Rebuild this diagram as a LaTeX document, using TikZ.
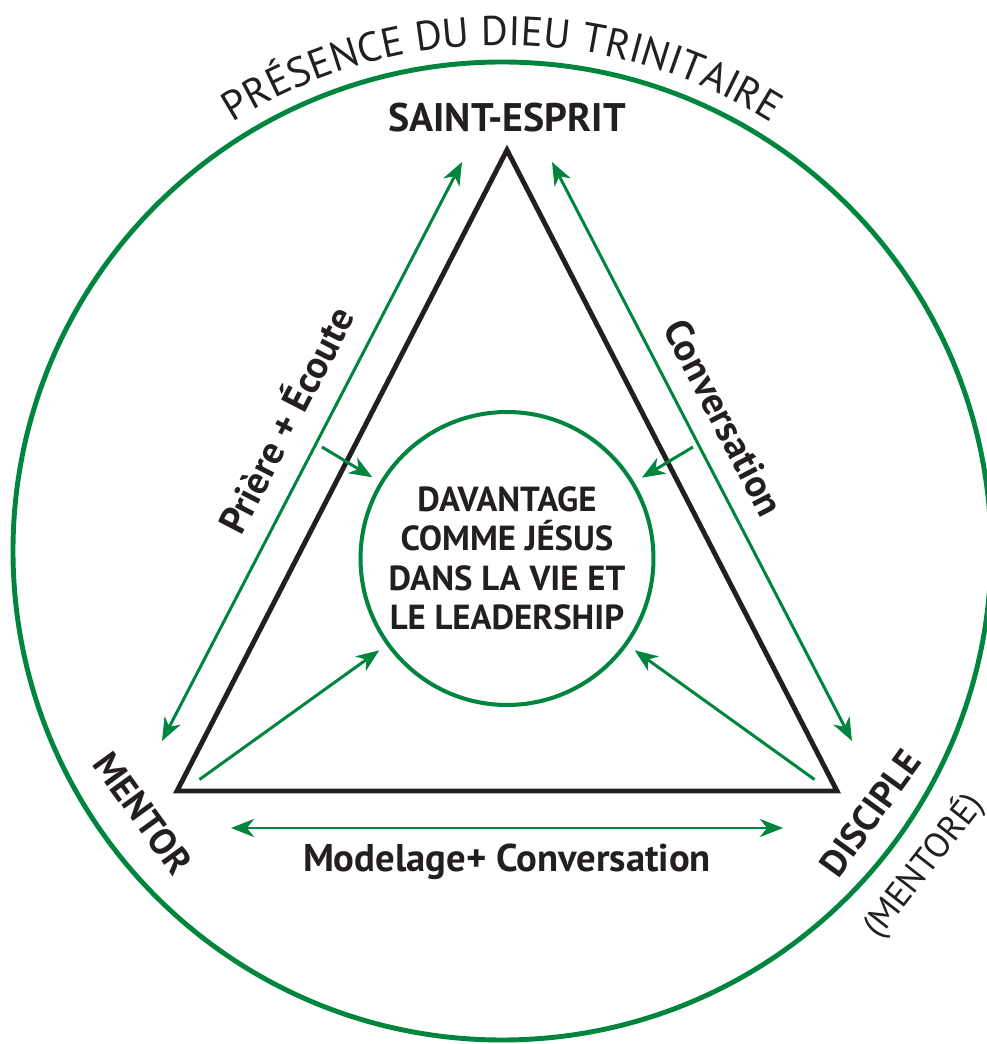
\documentclass[tikz,border=0pt]{standalone}
\usepackage{fontspec}
\setmainfont{PT Sans}
\usepackage{tikz}
\usetikzlibrary{arrows.meta,decorations.text}
\definecolor{ringgreen}{RGB}{0,133,62}
\definecolor{inkblack}{RGB}{35,31,32}

\begin{document}
\begin{tikzpicture}[>={Stealth[length=4.6mm,width=3.6mm,inset=1.4mm]},
 lbl/.style={font=\bfseries\fontsize{22}{26}\selectfont,text=inkblack,inner sep=0pt},
 corner/.style={font=\bfseries\fontsize{21}{24}\selectfont,text=inkblack,inner sep=0pt},
 flow/.style={<->,draw=ringgreen,line width=1.7pt},
 push/.style={->,draw=ringgreen,line width=1.7pt,shorten >=5pt}]
\useasboundingbox (-10.14,-9.86) rectangle (9.58,11.02);
\node[circle,draw=ringgreen,line width=2.8pt,minimum size=19.56cm,inner sep=0pt] (ring) at (-0.1,0) {};
\path[decorate,decoration={text along path,text align=center,text color=inkblack,text={|\fontsize{23.5}{28}\selectfont|PRÉSENCE DU DIEU TRINITAIRE}}] (-0.1,0) ++(132:10.12) arc[start angle=132,end angle=48,radius=10.12];
\coordinate (apex) at (0,8.02);
\coordinate (bl) at (-6.6,-4.8);
\coordinate (br) at (6.6,-4.8);
\draw[inkblack,line width=2.8pt,line join=miter] (apex)--(bl)--(br)--cycle;
\node[circle,draw=ringgreen,line width=2.3pt,minimum size=5.7cm,align=center,text=inkblack,font=\bfseries\fontsize{19.8}{22.4}\selectfont] (goal) at (0,-0.15) {DAVANTAGE\\COMME JÉSUS\\DANS LA VIE ET\\LE LEADERSHIP};
\node[corner,font=\bfseries\fontsize{22.7}{26}\selectfont] (spirit) at (0,8.67) {SAINT-ESPRIT};
\node[corner,rotate=-54] (mentor) at (-7.28,-5.24) {MENTOR};
\node[corner,rotate=54] (disciple) at (7.26,-5.24) {DISCIPLE};
\node[rotate=52,inner sep=0pt,text=inkblack,font=\fontsize{20}{24}\selectfont] (mentore) at (8.32,-6.28) {(MENTORÉ)};
\node[lbl,rotate=62.6] (prayer) at (-4.46,2.64) {Prière + Écoute};
\node[lbl,rotate=-62.6] (talk) at (4.34,2.66) {Conversation};
\node[lbl] (model) at (0,-6.22) {Modelage+ Conversation};
\coordinate (pa) at (-6.9,-3.8); \coordinate (pb) at (-0.9,7.78);
\coordinate (ca) at (0.9,7.78); \coordinate (cb) at (6.9,-3.8);
\coordinate (ma) at (-5.52,-5.54); \coordinate (mb) at (5.52,-5.54);
\draw[flow] (pa)--(pb); \draw[flow] (ca)--(cb); \draw[flow] (ma)--(mb);
\coordinate (ul) at (-3.7,2.08); \coordinate (ur) at (3.72,2.08);
\coordinate (ll) at (-6.15,-4.57); \coordinate (lr) at (6.15,-4.57);
\foreach \p in {ul,ur,ll,lr}{\draw[push] (\p)--(goal);}
\end{tikzpicture}
\end{document}
